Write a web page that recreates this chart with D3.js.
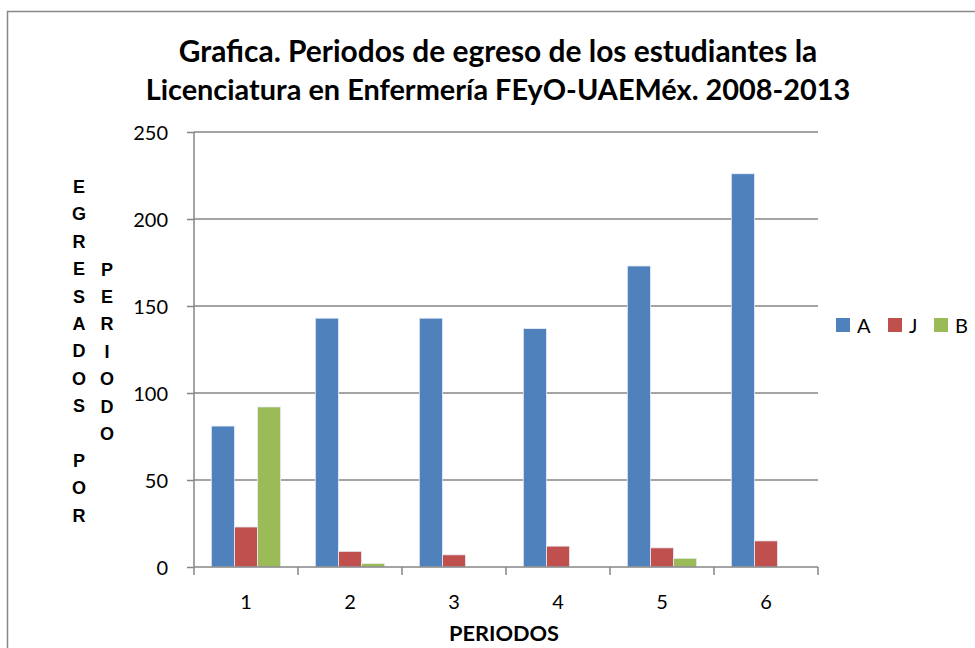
<!DOCTYPE html>
<html>
<head>
<meta charset="utf-8">
<script src="https://cdn.jsdelivr.net/npm/d3@7"></script>
<style>
  body { margin: 0; background: #fff; }
  svg { display: block; }
</style>
</head>
<body>
<svg id="chart" width="975" height="648"></svg>
<script>
// data
var periodos = ["1", "2", "3", "4", "5", "6"];
var series = ["A", "J", "B"];
var valoresA = [81, 143, 143, 137, 173, 226];
var valoresJ = [23, 9, 7, 12, 11, 15];
var valoresB = [92, 2, 0, 0, 5, 0];
var yTicks = [0, 50, 100, 150, 200, 250];
var colores = ["#4F81BD", "#C0504D", "#9BBB59"];
var tituloLineas = [
  "Grafica. Periodos de egreso de los estudiantes la",
  "Licenciatura en Enfermería FEyO-UAEMéx. 2008-2013"
];
var yTitulo1 = "EGRESADOS POR";
var yTitulo2 = "PERIODO";

var valores = {"A": valoresA, "J": valoresJ, "B": valoresB};

var svg = d3.select("#chart");

// outer chart frame
svg.append("rect")
  .attr("x", 7.5).attr("y", 11.5)
  .attr("width", 1000).attr("height", 700)
  .attr("fill", "#fff")
  .attr("stroke", "#888")
  .attr("stroke-width", 1.5);

var x0 = d3.scaleBand().domain(periodos).range([194, 818]).padding(0);
var x1 = d3.scaleBand().domain(series)
  .range([0, x0.bandwidth()])
  .paddingInner(0).paddingOuter(0.75);
var y = d3.scaleLinear().domain([0, 250]).range([567, 132]);
var color = d3.scaleOrdinal().domain(series).range(colores);

// gridlines
svg.append("g")
  .selectAll("line")
  .data(yTicks.slice(1))
  .join("line")
  .attr("x1", 194).attr("x2", 818)
  .attr("y1", function(d) { return y(d); })
  .attr("y2", function(d) { return y(d); })
  .attr("stroke", "#868686")
  .attr("stroke-width", 1.5);

// bars
var grupos = svg.append("g")
  .selectAll("g")
  .data(periodos)
  .join("g")
  .attr("transform", function(d) { return "translate(" + x0(d) + ",0)"; });

grupos.selectAll("rect")
  .data(function(p, i) {
    return series.map(function(s) { return {serie: s, valor: valores[s][i]}; });
  })
  .join("rect")
  .filter(function(d) { return d.valor > 0; })
  .attr("x", function(d) { return x1(d.serie); })
  .attr("y", function(d) { return y(d.valor); })
  .attr("width", x1.bandwidth())
  .attr("height", function(d) { return y(0) - y(d.valor); })
  .attr("fill", function(d) { return color(d.serie); })
  .attr("stroke", "#e8eef6")
  .attr("stroke-width", 0.8);

// y axis
var yAxis = svg.append("g")
  .attr("transform", "translate(194,0)")
  .call(d3.axisLeft(y).tickValues(yTicks).tickSize(7).tickPadding(19));
yAxis.select(".domain").attr("stroke", "#868686").attr("stroke-width", 1.5)
  .attr("d", "M0,132V567");
yAxis.selectAll(".tick line").attr("stroke", "#868686").attr("stroke-width", 1.5);
yAxis.selectAll(".tick text")
  .attr("font-family", "Lato, 'Open Sans', sans-serif")
  .attr("font-size", 20)
  .attr("fill", "#000")
  .attr("dy", "0.36em");

// x axis
var xAxis = svg.append("g")
  .attr("transform", "translate(0,567)")
  .call(d3.axisBottom(x0).tickSize(0).tickPadding(28));
xAxis.select(".domain").attr("stroke", "#868686").attr("stroke-width", 1.5)
  .attr("d", "M194,0H818");
xAxis.selectAll(".tick text")
  .attr("font-family", "Lato, 'Open Sans', sans-serif")
  .attr("font-size", 20)
  .attr("fill", "#000");
// tick marks at category boundaries
xAxis.append("g")
  .selectAll("line")
  .data(periodos.concat(["fin"]))
  .join("line")
  .attr("x1", function(d, i) { return 194 + i * x0.bandwidth(); })
  .attr("x2", function(d, i) { return 194 + i * x0.bandwidth(); })
  .attr("y1", 0).attr("y2", 8)
  .attr("stroke", "#868686")
  .attr("stroke-width", 1.5);

// text sized to fit a width seen in the reference
function ajustar(t, base, ancho) {
  var w = t.node().getComputedTextLength();
  t.attr("font-size", base * ancho / w);
}

// x axis title
var xt = svg.append("text")
  .attr("x", 504).attr("y", 641)
  .attr("text-anchor", "middle")
  .attr("font-family", "Lato, 'Open Sans', sans-serif")
  .attr("font-weight", "bold")
  .attr("font-size", 18)
  .text("PERIODOS");
ajustar(xt, 18, 110);

// y axis title, letters stacked in two columns
function columna(texto, cx, y0) {
  svg.append("g")
    .selectAll("text")
    .data(texto.split(""))
    .join("text")
    .attr("x", cx)
    .attr("y", function(d, i) { return y0 + i * 27.4; })
    .attr("text-anchor", "middle")
    .attr("font-family", "'Liberation Sans', Arial, sans-serif")
    .attr("font-weight", "bold")
    .attr("font-size", 18)
    .text(function(d) { return d; });
}
columna(yTitulo1, 79, 193);
columna(yTitulo2, 107, 275.5);

// title
var anchos = [639, 705];
var bases = [62, 100];
tituloLineas.forEach(function(linea, i) {
  var t = svg.append("text")
    .attr("x", 498).attr("y", bases[i])
    .attr("text-anchor", "middle")
    .attr("font-family", "Lato, 'Open Sans', sans-serif")
    .attr("font-weight", "bold")
    .attr("font-size", 26)
    .attr("fill", "#000")
    .text(linea);
  ajustar(t, 26, anchos[i]);
});

// legend
var leyenda = svg.append("g")
  .selectAll("g")
  .data(series)
  .join("g")
  .attr("transform", function(d, i) { return "translate(" + [836, 888, 934][i] + ",318)"; });
leyenda.append("rect")
  .attr("width", 14).attr("height", 14)
  .attr("fill", function(d) { return color(d); });
leyenda.append("text")
  .attr("x", 21).attr("y", 15)
  .attr("font-family", "Lato, 'Open Sans', sans-serif")
  .attr("font-size", 20)
  .text(function(d) { return d; });
</script>
</body>
</html>
